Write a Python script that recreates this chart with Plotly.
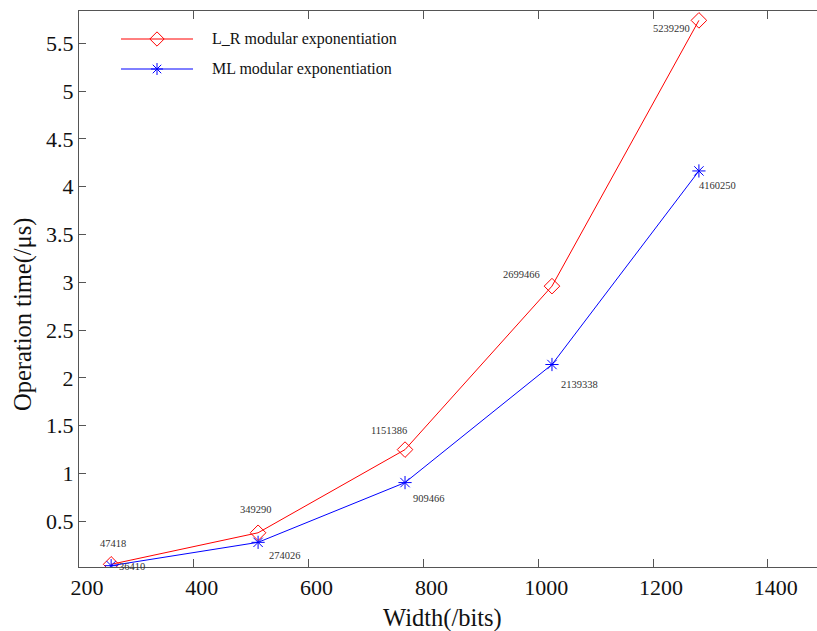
import plotly.graph_objects as go

# ---- data ----
widths = [256, 512, 768, 1024, 1280]
lr_times = [0.05, 0.38, 1.25, 2.96, 5.74]
ml_times = [0.036, 0.28, 0.905, 2.14, 4.165]
lr_labels = ["47418", "349290", "1151386", "2699466", "5239290"]
ml_labels = ["36410", "274026", "909466", "2139338", "4160250"]
series_names = ["L_R modular exponentiation", "ML modular exponentiation"]
y_tick_vals = [0.5, 1, 1.5, 2, 2.5, 3, 3.5, 4, 4.5, 5, 5.5]
y_tick_text = ["0.5", "1", "1.5", "2", "2.5", "3", "3.5", "4", "4.5", "5", "5.5"]
x_tick_vals = [200, 400, 600, 800, 1000, 1200, 1400]

# ---- style ----
FONT = "Liberation Serif"
RED = "#ff0000"
BLUE = "#0000ff"
AXC = "#555555"
lr_offsets = [(2, -21), (-2, -23), (-16, -19), (-30, -12), (-27, 8)]
ml_offsets = [(21, 1), (27, 13), (24, 16), (28, 20), (19, 15)]

# layout geometry (pixels); the plot area runs past the right window edge, as in the cropped original
W, H = 830, 631
L, T, B = 79, 11, 64
PW, PH = W - L, H - T - B
PX_PER_200 = 114.8
x_max = 200 + PW / PX_PER_200 * 200


def px(xpix):
    return (xpix - L) / PW


def py(ypix):
    return (T + PH - ypix) / PH


fig = go.Figure()
fig.add_trace(go.Scatter(
    x=widths, y=lr_times, mode="lines+markers", name=series_names[0],
    line=dict(color=RED, width=1),
    marker=dict(symbol="diamond-open", size=12, color=RED, line=dict(color=RED, width=1)),
    showlegend=False))
fig.add_trace(go.Scatter(
    x=widths, y=ml_times, mode="lines+markers", name=series_names[1],
    line=dict(color=BLUE, width=1),
    marker=dict(symbol="asterisk-open", size=11, color=BLUE, line=dict(color=BLUE, width=1)),
    showlegend=False))

annotations = []
for xv, yv, t, (dx, dy) in zip(widths, lr_times, lr_labels, lr_offsets):
    annotations.append(dict(x=xv, y=yv, xref="x", yref="y", text=t, showarrow=False,
                            xshift=dx, yshift=-dy, font=dict(family=FONT, size=10.5, color="#333333")))
for xv, yv, t, (dx, dy) in zip(widths, ml_times, ml_labels, ml_offsets):
    annotations.append(dict(x=xv, y=yv, xref="x", yref="y", text=t, showarrow=False,
                            xshift=dx, yshift=-dy, font=dict(family=FONT, size=10.5, color="#333333")))

# manual legend
leg_y = [py(39), py(69)]
leg_cols = [RED, BLUE]
leg_syms = ["diamond-open", "asterisk-open"]
leg_sizes = [11, 10]
for i in range(2):
    fig.add_trace(go.Scatter(x=[px(121), px(193)], y=[leg_y[i]] * 2, xaxis="x2", yaxis="y2",
                             mode="lines", line=dict(color=leg_cols[i], width=1),
                             showlegend=False, hoverinfo="skip"))
    fig.add_trace(go.Scatter(x=[px(157)], y=[leg_y[i]], xaxis="x2", yaxis="y2", mode="markers",
                             marker=dict(symbol=leg_syms[i], size=leg_sizes[i], color=leg_cols[i],
                                         line=dict(color=leg_cols[i], width=1)),
                             showlegend=False, hoverinfo="skip"))
    annotations.append(dict(x=px(210), y=leg_y[i], xref="paper", yref="paper", text=series_names[i],
                            showarrow=False, xanchor="left", yanchor="middle",
                            font=dict(family=FONT, size=16, color="#111111")))

# axis titles
annotations.append(dict(x=px(442), y=py(618), xref="paper", yref="paper", text="Width(/bits)",
                        showarrow=False, xanchor="center", yanchor="middle",
                        font=dict(family=FONT, size=24.5, color="#111111")))
annotations.append(dict(x=px(23), y=py(315), xref="paper", yref="paper", text="Operation time(/μs)",
                        showarrow=False, xanchor="center", yanchor="middle", textangle=-90,
                        font=dict(family=FONT, size=24.5, color="#111111")))

fig.update_layout(
    width=W, height=H,
    margin=dict(l=L, r=0, t=T, b=B),
    paper_bgcolor="white", plot_bgcolor="white",
    font=dict(family=FONT, color="#111111"),
    annotations=annotations,
    xaxis=dict(range=[200, x_max], tickvals=x_tick_vals, ticks="inside", ticklen=8, tickwidth=1,
               tickcolor=AXC, showline=True, linecolor=AXC, linewidth=1.3, mirror="ticks",
               showgrid=False, zeroline=False, tickfont=dict(family=FONT, size=22, color="#111111"),
               ticklabelshift=8),
    yaxis=dict(range=[0.022, 5.838], tickvals=y_tick_vals, ticktext=y_tick_text, ticks="inside",
               ticklen=7, tickwidth=1, tickcolor=AXC, showline=True, linecolor=AXC, linewidth=1.3,
               mirror=False, showgrid=False, zeroline=False,
               tickfont=dict(family=FONT, size=22, color="#111111")),
    xaxis2=dict(range=[0, 1], overlaying="x", visible=False, showline=False),
    yaxis2=dict(range=[0, 1], overlaying="y", visible=False, showline=False),
)

# remove the default page margin so the figure starts at the window's top-left corner
fig.write_html("out.html", config={"displayModeBar": False},
               post_script="document.body.style.margin='0';document.body.style.overflow='hidden';")
